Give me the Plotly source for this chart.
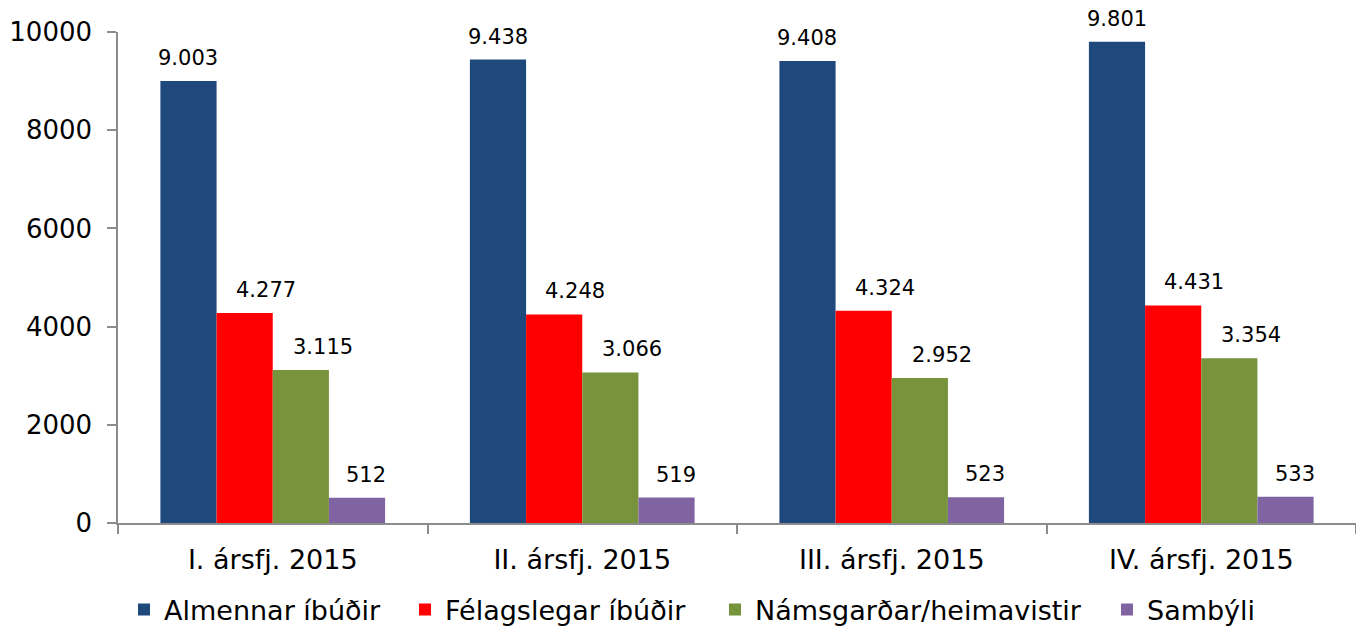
import plotly.graph_objects as go

categories = ["I. ársfj. 2015", "II. ársfj. 2015", "III. ársfj. 2015", "IV. ársfj. 2015"]
series_names = ["Almennar íbúðir", "Félagslegar íbúðir", "Námsgarðar/heimavistir", "Sambýli"]
almennar = [9003, 9438, 9408, 9801]
felagslegar = [4277, 4248, 4324, 4431]
namsgardar = [3115, 3066, 2952, 3354]
sambyli = [512, 519, 523, 533]
y_ticks = [0, 2000, 4000, 6000, 8000, 10000]

series_values = [almennar, felagslegar, namsgardar, sambyli]
colors = ["#1F497D", "#FF0000", "#77933C", "#8064A2"]
label_xshift = [0, 21, 22, 9]

FONT = "Verdana, DejaVu Sans, sans-serif"
BARGAP = 0.274

# plot area in pixels
L, R, T, B = 118, 0, 32, 105
W, H = 1356, 628
pw = W - L - R
ph = H - T - B

def fmt(v):
    return f"{v:,}".replace(",", ".")

fig = go.Figure()
legend_sym_left = [139, 420, 730, 1122]
legend_ids = ["legend", "legend2", "legend3", "legend4"]
for i, (name, vals) in enumerate(zip(series_names, series_values)):
    fig.add_trace(go.Bar(
        x=categories, y=vals, name=name,
        marker=dict(color=colors[i], line=dict(width=0)),
        legend=legend_ids[i],
        hoverinfo="x+y+name",
    ))

n = len(series_names)
bw = (1 - BARGAP) / n
annotations = []
for i, vals in enumerate(series_values):
    for j, v in enumerate(vals):
        xc = j - (1 - BARGAP) / 2 + (i + 0.5) * bw
        annotations.append(dict(
            x=xc, y=v, xref="x", yref="y", text=fmt(v), showarrow=False,
            xanchor="center", yanchor="bottom", yshift=9, xshift=label_xshift[i],
            font=dict(family=FONT, size=21, color="#000000"),
        ))

legend_layouts = {}
for k, lid in enumerate(legend_ids):
    box_left = legend_sym_left[k] - 15
    legend_layouts[lid] = dict(
        xref="container", yref="container",
        x=box_left / W, xanchor="left",
        y=1 - 610 / H, yanchor="middle",
        orientation="h", bgcolor="rgba(0,0,0,0)",
        font=dict(family=FONT, size=27, color="#000000"),
        itemclick=False, itemdoubleclick=False,
    )

fig.update_layout(
    width=W, height=H,
    margin=dict(l=L, r=R, t=T, b=B, pad=0),
    paper_bgcolor="white", plot_bgcolor="white",
    barmode="group", bargap=BARGAP, bargroupgap=0,
    showlegend=True,
    annotations=annotations,
    font=dict(family=FONT, color="#000000"),
    **legend_layouts,
)

fig.update_xaxes(
    type="category", range=[-0.5, 3.5], automargin=False,
    showline=True, linecolor="#8C8C8C", linewidth=1.5,
    ticks="outside", tickson="boundaries", ticklen=9, tickcolor="#8C8C8C", tickwidth=1.5,
    tickfont=dict(family=FONT, size=27, color="#000000"),
    ticklabelstandoff=12,
    showgrid=False, zeroline=False,
)
fig.update_yaxes(
    range=[0, 10000], tickvals=y_ticks, ticktext=[str(t) for t in y_ticks], automargin=False,
    showline=True, linecolor="#8C8C8C", linewidth=1.5,
    ticks="outside", ticklen=9, tickcolor="#8C8C8C", tickwidth=1.5,
    tickfont=dict(family=FONT, size=26, color="#000000"),
    ticklabelstandoff=10,
    showgrid=False, zeroline=False,
)

fig.write_html(
    "out.html",
    config={"displayModeBar": False},
    post_script="document.body.style.margin='0';document.body.style.overflow='hidden';",
)
